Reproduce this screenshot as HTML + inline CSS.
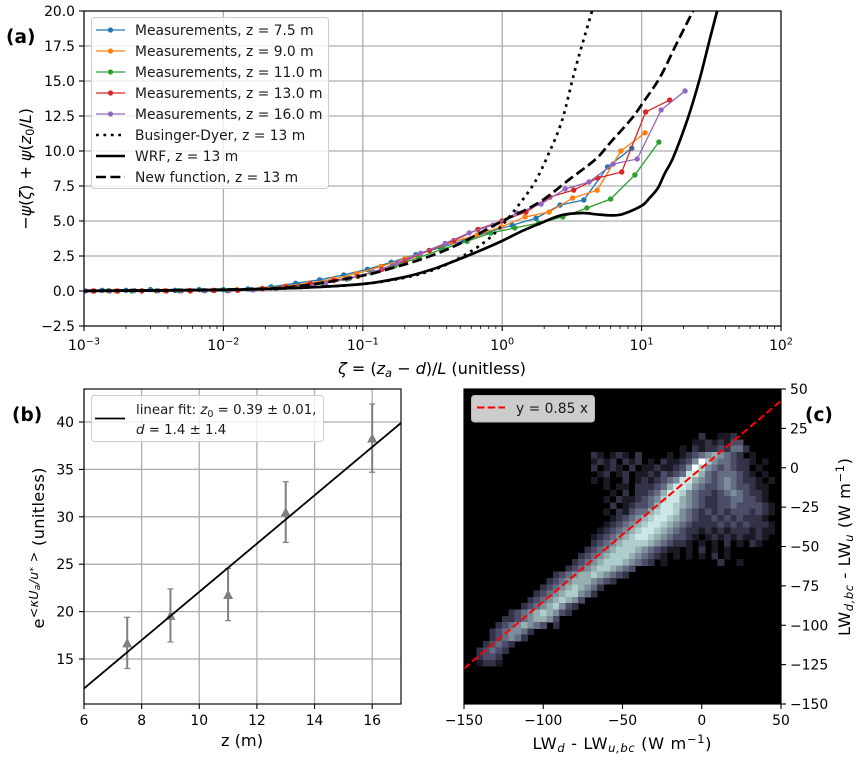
<!DOCTYPE html>
<html lang="en">
<head>
<meta charset="utf-8">
<title>Stability function, roughness fit and longwave comparison</title>
<style>
html,body{margin:0;padding:0;background:#fff;}
svg{display:block;font-family:"DejaVu Sans","Liberation Sans",sans-serif;fill:#000;}
text{white-space:pre;}
.tick{font-size:13.9px;}
.lab{font-size:16.2px;}
.leg{font-size:13.85px;fill:#1a1a1a;}
.legb{font-size:13.35px;fill:#1a1a1a;}
.pan{font-size:18.5px;font-weight:bold;}
</style>
</head>
<body>
<svg id="fig" xmlns="http://www.w3.org/2000/svg" width="861" height="761" viewBox="0 0 861 761">
  <defs>
    <clipPath id="clipA"><rect x="84" y="11" width="697" height="315"/></clipPath>
    <clipPath id="clipB"><rect x="84" y="389" width="317" height="315"/></clipPath>
    <clipPath id="clipC"><rect x="464" y="389" width="317" height="315"/></clipPath>
  </defs>
  <g id="panelA"></g>
  <g id="panelB"></g>
  <g id="panelC"></g>

  <text class="pan" x="6" y="43">(a)</text>
  <text class="pan" x="12" y="421">(b)</text>
  <text class="pan" x="805" y="421">(c)</text>

  <text class="lab" transform="translate(31,169) rotate(-90)" text-anchor="middle" textLength="122">−<tspan font-style="italic">ψ</tspan>(<tspan font-style="italic">ζ</tspan>) + <tspan font-style="italic">ψ</tspan>(<tspan font-style="italic">z</tspan><tspan font-size="11.5" dy="3">0</tspan><tspan dy="-3">/</tspan><tspan font-style="italic">L</tspan>)</text>
  <text class="lab" x="432" y="374" text-anchor="middle" textLength="188"><tspan font-style="italic">ζ</tspan> = (<tspan font-style="italic">z</tspan><tspan font-size="11.5" font-style="italic" dy="3">a</tspan><tspan dy="-3"> − </tspan><tspan font-style="italic">d</tspan>)/<tspan font-style="italic">L</tspan> (unitless)</text>
  <text class="lab" transform="translate(44,548) rotate(-90)" text-anchor="middle" textLength="161">e<tspan font-size="12.5" dy="-6">&lt;</tspan><tspan font-size="12.5" font-style="italic">κU</tspan><tspan font-size="9" font-style="italic" dy="2">a</tspan><tspan font-size="12.5" font-style="italic" dy="-2">/u</tspan><tspan font-size="9" dy="-2">*</tspan><tspan font-size="12.5" dy="2"> &gt;</tspan><tspan dy="6"> (unitless)</tspan></text>
  <text class="lab" x="242" y="746" text-anchor="middle">z (m)</text>
  <text class="lab" x="622" y="749" text-anchor="middle" textLength="179">LW<tspan font-size="11.5" font-style="italic" dy="3">d</tspan><tspan dy="-3"> - LW</tspan><tspan font-size="11.5" font-style="italic" dy="3">u,bc</tspan><tspan dy="-3"> (W m</tspan><tspan font-size="11.5" dy="-6">−1</tspan><tspan dy="6">)</tspan></text>
  <text class="lab" transform="translate(850,547) rotate(-90)" text-anchor="middle" textLength="178">LW<tspan font-size="11.5" font-style="italic" dy="3">d,bc</tspan><tspan dy="-3"> - LW</tspan><tspan font-size="11.5" font-style="italic" dy="3">u</tspan><tspan dy="-3"> (W m</tspan><tspan font-size="11.5" dy="-6">−1</tspan><tspan dy="6">)</tspan></text>

  <g id="legendA">
    <rect x="91.5" y="17.5" width="237" height="171" rx="3" fill="#fff" fill-opacity="0.8" stroke="#ccc"/>
    <g><line x1="96" x2="125" y1="30" y2="30" stroke="#1f77b4" stroke-width="1.3"/><circle cx="110.5" cy="30" r="2.6" fill="#1f77b4"/><text class="leg" x="135" y="35">Measurements, z = 7.5 m</text></g>
    <g><line x1="96" x2="125" y1="51" y2="51" stroke="#ff7f0e" stroke-width="1.3"/><circle cx="110.5" cy="51" r="2.6" fill="#ff7f0e"/><text class="leg" x="135" y="56">Measurements, z = 9.0 m</text></g>
    <g><line x1="96" x2="125" y1="72" y2="72" stroke="#2ca02c" stroke-width="1.3"/><circle cx="110.5" cy="72" r="2.6" fill="#2ca02c"/><text class="leg" x="135" y="77">Measurements, z = 11.0 m</text></g>
    <g><line x1="96" x2="125" y1="93" y2="93" stroke="#d62728" stroke-width="1.3"/><circle cx="110.5" cy="93" r="2.6" fill="#d62728"/><text class="leg" x="135" y="98">Measurements, z = 13.0 m</text></g>
    <g><line x1="96" x2="125" y1="114" y2="114" stroke="#9467bd" stroke-width="1.3"/><circle cx="110.5" cy="114" r="2.6" fill="#9467bd"/><text class="leg" x="135" y="119">Measurements, z = 16.0 m</text></g>
    <g><line x1="96" x2="125" y1="135" y2="135" stroke="#000" stroke-width="2.6" stroke-dasharray="2.8 4.6"/><text class="leg" x="135" y="140">Businger-Dyer, z = 13 m</text></g>
    <g><line x1="96" x2="125" y1="156" y2="156" stroke="#000" stroke-width="2.6"/><text class="leg" x="135" y="161">WRF, z = 13 m</text></g>
    <g><line x1="96" x2="125" y1="177" y2="177" stroke="#000" stroke-width="2.6" stroke-dasharray="10 4.4"/><text class="leg" x="135" y="182">New function, z = 13 m</text></g>
  </g>
  <g id="legendB">
    <rect x="91.5" y="395.5" width="232" height="46" rx="3" fill="#fff" fill-opacity="0.8" stroke="#ccc"/>
    <line x1="95" x2="125" y1="418.5" y2="418.5" stroke="#000" stroke-width="1.8"/>
    <text class="legb" x="136" y="414">linear fit: <tspan font-style="italic">z</tspan><tspan font-size="9.5" dy="3">0</tspan><tspan dy="-3"> = 0.39 ± 0.01,</tspan></text>
    <text class="legb" x="136" y="434"><tspan font-style="italic">d</tspan> = 1.4 ± 1.4</text>
  </g>
  <g id="legendC">
    <rect x="471.5" y="395.5" width="123" height="26.5" rx="3" fill="#ccc" stroke="#b8b8b8"/>
    <line x1="477" x2="505" y1="407.5" y2="407.5" stroke="#f00" stroke-width="2" stroke-dasharray="7.5 3.2"/>
    <text class="leg" x="516" y="413">y = 0.85 x</text>
  </g>
</svg>
<script>
// ---- Panel (a) data ----
const zetaExponents = [-3, -2, -1, 0, 1, 2];
const minorMultiples = [2, 3, 4, 5, 6, 7, 8, 9];
const psiTicks = [-2.5, 0, 2.5, 5, 7.5, 10, 12.5, 15, 17.5, 20];

const zeta75 = [0.00135,0.002,0.003,0.0045,0.0067,0.01,0.015,0.022,0.033,0.049,0.073,0.108,0.16,0.24,0.36,0.53,0.79,1.18,1.75,2.6,3.85,5.7,8.5];
const psi75  = [0.05,0.05,0.1,0.05,0.1,0.1,0.15,0.3,0.55,0.8,1.15,1.55,2.05,2.6,3.1,3.6,4.2,4.7,5.2,6.14,6.5,8.86,10.2];
const zeta90 = [0.00116,0.0017,0.0026,0.0038,0.0057,0.0084,0.0125,0.019,0.028,0.041,0.061,0.09,0.135,0.2,0.3,0.44,0.66,0.98,1.46,2.17,3.2,4.8,7.1,10.6];
const psi90  = [0,0,0.02,0.03,0.05,0.05,0.1,0.2,0.35,0.55,0.85,1.25,1.75,2.3,2.9,3.5,4.0,4.57,5.29,5.64,6.64,7.2,10,11.3];
const zeta110 = [0.001,0.0015,0.0022,0.0033,0.0048,0.0072,0.0107,0.0159,0.0236,0.035,0.052,0.077,0.115,0.17,0.253,0.376,0.56,0.83,1.23,1.83,2.72,4.05,6.0,8.95,13.3];
const psi110  = [0,0.02,0,0.01,0.02,0.03,0.02,0.1,0.2,0.35,0.55,0.85,1.3,1.8,2.4,3.0,3.55,4.14,4.5,4.86,5.29,5.93,6.57,8.29,10.64];
const zeta130 = [0.00118,0.00175,0.0026,0.0039,0.0058,0.0086,0.0127,0.019,0.028,0.042,0.062,0.092,0.137,0.2,0.3,0.45,0.67,0.995,1.48,2.2,3.26,4.85,7.2,10.7,15.9];
const psi130  = [0,0,0,0,0,0.04,0.05,0.15,0.3,0.5,0.75,1.05,1.55,2.15,2.9,3.6,4.4,5.0,5.64,6.71,7.21,8.07,8.5,12.79,13.64];
const zeta160 = [0.00103,0.00153,0.0023,0.0034,0.005,0.0074,0.011,0.0164,0.024,0.036,0.054,0.08,0.119,0.177,0.26,0.39,0.58,0.86,1.28,1.9,2.83,4.2,6.25,9.3,13.8,20.5];
const psi160  = [0,0,0.03,0.02,0.01,0.02,0.04,0.08,0.18,0.3,0.55,0.9,1.35,2.0,2.7,3.4,4.15,4.71,5.57,6.21,7.29,7.79,9.07,9.43,12.93,14.29];

const zetaBD = [0.001,0.01,0.03,0.1,0.2,0.32,0.42,0.59,0.78,0.96,1.28,1.72,2.13,2.69,3.33,4.41];
const psiBD  = [0.01,0.08,0.2,0.5,0.95,1.5,2.0,2.8,3.64,4.5,6.0,7.8,9.7,12.2,15.8,20];
const zetaWRF = [0.001,0.01,0.03,0.1,0.2,0.32,0.5,0.7,0.96,1.4,2,2.7,3.8,4.8,6.2,7.36,10.2,11.4,13.1,14.6,16.8,21.5,26.2,31,34.8];
const psiWRF  = [0.01,0.08,0.2,0.5,1.0,1.57,2.3,2.9,3.5,4.3,4.95,5.43,5.57,5.47,5.4,5.5,6.14,6.64,7.36,8.36,9.5,12.36,15.2,18.07,20];
const zetaNew = [0.001,0.01,0.03,0.1,0.2,0.32,0.5,0.96,1.86,3.06,4.79,5.93,8.67,10.2,13.6,17.9,23.4];
const psiNew  = [0.012,0.1,0.28,1.1,1.9,2.57,3.4,4.9,6.36,8.0,9.5,10.57,12.43,13.43,15.29,17.71,20];

// ---- Panel (b) data ----
const heightTicks = [6, 8, 10, 12, 14, 16];
const expTicks = [15, 20, 25, 30, 35, 40];
const heights = [7.5, 9, 11, 13, 16];
const expMeans = [16.7, 19.6, 21.8, 30.5, 38.3];
const expErrors = [2.7, 2.8, 2.75, 3.2, 3.6];
const fitHeights = [6, 17];
const fitValues = [11.9, 39.9];

// ---- Panel (c) data ----
const lwXTicks = [-150, -100, -50, 0, 50];
const lwYTicks = [-150, -125, -100, -75, -50, -25, 0, 25, 50];
const ratioSlope = [0.85];
const ratioX = [-150, 50];
const heatBinSize = 4;
const heatFirstRow = 7;
// each row: first column bin, then density levels 0-9 for consecutive bins
const heatRows = [
 [37,"200112"],
 [36,"11212133"],
 [34,"10212232442"],
 [20,"210121020000101234565432010000"],
 [20,"121202120102112359754432210100"],
 [20,"201210201121123597543432201000"],
 [20,"012012011213234886434443210100"],
 [20,"101002012123458865434543221010"],
 [20,"001011022234688754334543321100"],
 [20,"000102022346887543323454322100"],
 [20,"001021123457886543223344332100"],
 [20,"000201233468876543223343333210"],
 [20,"001021344678875432323233323210"],
 [20,"000123456788765432232323222100"],
 [20,"001234567887654322223232322210"],
 [20,"012345678876543221212122212110"],
 [20,"123456788765433210121212112100"],
 [20,"234567777654322101010201021000"],
 [19,"234567776543211010201010"],
 [18,"234567776543210101010201"],
 [17,"234567776543201000000002001"],
 [16,"23456776543"],
 [14,"234566765432"],
 [13,"23456665432"],
 [12,"2345676542"],
 [11,"2345677542"],
 [10,"234567653"],
 [9,"234567532"],
 [7,"2345676532"],
 [6,"223456653"],
 [5,"2345654302"],
 [4,"2345542"],
 [4,"234542"],
 [3,"23432"],
 [2,"23432"],
 [2,"2332"],
 [2,"1221"]
];

// ---- Helpers ----
const SVGNS = "http://www.w3.org/2000/svg";
function add(parent, tag, attrs, name) {
  const el = document.createElementNS(SVGNS, tag);
  for (const k in attrs) el.setAttribute(k, attrs[k]);
  
  
  parent.appendChild(el);
  return el;
}
function label(parent, x, y, str, anchor, name) {
  const t = add(parent, 'text', {x: x, y: y, 'text-anchor': anchor, class: 'tick'}, name);
  t.textContent = str;
  return t;
}
function minus(v, digits) { return v.toFixed(digits).replace('-', '−'); }
function pathFrom(xs, ys, fx, fy) {
  return xs.map((x, i) => (i ? 'L' : 'M') + fx(x).toFixed(2) + ' ' + fy(ys[i]).toFixed(2)).join('');
}
function smoothFrom(xs, ys, fx, fy) {
  const p = xs.map((x, i) => [fx(x), fy(ys[i])]);
  let d = 'M' + p[0][0].toFixed(2) + ' ' + p[0][1].toFixed(2);
  for (let i = 0; i < p.length - 1; i++) {
    const a = p[Math.max(i - 1, 0)], b = p[i], c = p[i + 1], e = p[Math.min(i + 2, p.length - 1)];
    const h = c[0] - b[0];
    const m1 = (c[1] - a[1]) / Math.max(c[0] - a[0], 1e-6);
    const m2 = (e[1] - b[1]) / Math.max(e[0] - b[0], 1e-6);
    d += 'C' + (b[0] + h / 3).toFixed(2) + ' ' + (b[1] + m1 * h / 3).toFixed(2) + ' ' +
         (c[0] - h / 3).toFixed(2) + ' ' + (c[1] - m2 * h / 3).toFixed(2) + ' ' +
         c[0].toFixed(2) + ' ' + c[1].toFixed(2);
  }
  return d;
}
const GRID = '#adadad', GW = 1.3, SPINE = 1.15;
function frame(g, x, y, w, h, name) {
  add(g, 'rect', {x: x, y: y, width: w, height: h, fill: 'none', stroke: '#000', 'stroke-width': SPINE}, name);
}

// ---- Panel (a) ----
(function () {
  const g = document.getElementById('panelA');
  const xA = z => 84 + (Math.log10(z) + 3) * 139.4;
  const yA = v => 291 - 14 * v;
  zetaExponents.forEach(e => {
    const x = xA(Math.pow(10, e));
    add(g, 'line', {x1: x, x2: x, y1: 11, y2: 326, stroke: GRID, 'stroke-width': GW}, 'x-gridline');
  });
  psiTicks.forEach(v => {
    add(g, 'line', {x1: 84, x2: 781, y1: yA(v), y2: yA(v), stroke: GRID, 'stroke-width': GW}, 'y-gridline');
  });
  const data = add(g, 'g', {'clip-path': 'url(#clipA)'}, 'panel-a-series');
  const series = [
    [zeta75, psi75, '#1f77b4', 'series-7-5m'],
    [zeta90, psi90, '#ff7f0e', 'series-9-0m'],
    [zeta110, psi110, '#2ca02c', 'series-11-0m'],
    [zeta130, psi130, '#d62728', 'series-13-0m'],
    [zeta160, psi160, '#9467bd', 'series-16-0m']
  ];
  series.forEach(s => {
    const grp = add(data, 'g', {}, s[3]);
    add(grp, 'path', {d: pathFrom(s[0], s[1], xA, yA), fill: 'none', stroke: s[2], 'stroke-width': 1.3}, s[3] + '-line');
    s[0].forEach((z, i) => {
      add(grp, 'circle', {cx: xA(z), cy: yA(s[1][i]), r: 2.7, fill: s[2]}, s[3] + '-point');
    });
  });
  add(data, 'path', {d: smoothFrom(zetaBD, psiBD, xA, yA), fill: 'none', stroke: '#000', 'stroke-width': 2.7, 'stroke-dasharray': '2.8 4.6'}, 'businger-dyer-line');
  add(data, 'path', {d: smoothFrom(zetaWRF, psiWRF, xA, yA), fill: 'none', stroke: '#000', 'stroke-width': 2.7, 'stroke-linejoin': 'round'}, 'wrf-line');
  add(data, 'path', {d: smoothFrom(zetaNew, psiNew, xA, yA), fill: 'none', stroke: '#000', 'stroke-width': 2.7, 'stroke-dasharray': '10 4.4'}, 'new-function-line');
  frame(g, 84, 11, 697, 315, 'panel-a-frame');
  zetaExponents.forEach(e => {
    const x = xA(Math.pow(10, e));
    add(g, 'line', {x1: x, x2: x, y1: 326, y2: 331, stroke: '#000', 'stroke-width': 1.1}, 'x-major-tick');
    const t = add(g, 'text', {x: x, y: 350, 'text-anchor': 'middle', class: 'tick'}, 'x-tick-label');
    const base = document.createElementNS(SVGNS, 'tspan');
    base.textContent = '10';
    t.appendChild(base);
    const sup = document.createElementNS(SVGNS, 'tspan');
    sup.setAttribute('font-size', '9.7');
    sup.setAttribute('dy', '-5.5');
    sup.textContent = e < 0 ? '−' + (-e) : String(e);
    t.appendChild(sup);
    if (e < 2) {
      minorMultiples.forEach(m => {
        const mx = xA(m * Math.pow(10, e));
        add(g, 'line', {x1: mx, x2: mx, y1: 326, y2: 329, stroke: '#000', 'stroke-width': 0.8}, 'x-minor-tick');
      });
    }
  });
  psiTicks.forEach(v => {
    add(g, 'line', {x1: 79, x2: 84, y1: yA(v), y2: yA(v), stroke: '#000', 'stroke-width': 1.1}, 'y-major-tick');
    label(g, 75, yA(v) + 5, minus(v, 1), 'end', 'y-tick-label');
  });
})();

// ---- Panel (b) ----
(function () {
  const g = document.getElementById('panelB');
  const xB = z => 84 + (z - 6) * (317 / 11);
  const yB = v => 659 - (v - 15) * 9.48;
  heightTicks.forEach(z => {
    add(g, 'line', {x1: xB(z), x2: xB(z), y1: 389, y2: 704, stroke: GRID, 'stroke-width': GW}, 'x-gridline');
  });
  expTicks.forEach(v => {
    add(g, 'line', {x1: 84, x2: 401, y1: yB(v), y2: yB(v), stroke: GRID, 'stroke-width': GW}, 'y-gridline');
  });
  const data = add(g, 'g', {'clip-path': 'url(#clipB)'}, 'panel-b-series');
  heights.forEach((z, i) => {
    const x = xB(z);
    const top = yB(expMeans[i] + expErrors[i]);
    const bot = yB(expMeans[i] - expErrors[i]);
    const y = yB(expMeans[i]);
    const grp = add(data, 'g', {}, 'measurement-point');
    add(grp, 'line', {x1: x, x2: x, y1: top, y2: bot, stroke: '#808080', 'stroke-width': 2}, 'error-bar');
    add(grp, 'line', {x1: x - 3, x2: x + 3, y1: top, y2: top, stroke: '#808080', 'stroke-width': 1.2}, 'error-cap-top');
    add(grp, 'line', {x1: x - 3, x2: x + 3, y1: bot, y2: bot, stroke: '#808080', 'stroke-width': 1.2}, 'error-cap-bottom');
    add(grp, 'polygon', {points: x + ',' + (y - 5) + ' ' + (x + 5) + ',' + (y + 4.5) + ' ' + (x - 5) + ',' + (y + 4.5), fill: '#808080'}, 'triangle-marker');
  });
  add(data, 'path', {d: pathFrom(fitHeights, fitValues, xB, yB), fill: 'none', stroke: '#000', 'stroke-width': 1.8}, 'linear-fit-line');
  frame(g, 84, 389, 317, 315, 'panel-b-frame');
  heightTicks.forEach(z => {
    add(g, 'line', {x1: xB(z), x2: xB(z), y1: 704, y2: 709, stroke: '#000', 'stroke-width': 1.1}, 'x-major-tick');
    label(g, xB(z), 725, String(z), 'middle', 'x-tick-label');
  });
  expTicks.forEach(v => {
    add(g, 'line', {x1: 79, x2: 84, y1: yB(v), y2: yB(v), stroke: '#000', 'stroke-width': 1.1}, 'y-major-tick');
    label(g, 74, yB(v) + 5, String(v), 'end', 'y-tick-label');
  });
})();

// ---- Panel (c) ----
(function () {
  const g = document.getElementById('panelC');
  const xC = v => 464 + (v + 150) * 1.585;
  const yC = v => 389 + (50 - v) * 1.575;
  const bone = ['#000000', '#1a1a25', '#333347', '#4c4c69', '#646d82', '#7c8e9b', '#96afaf', '#aecece', '#cde6e6', '#fbffff'];
  add(g, 'rect', {x: 464, y: 389, width: 317, height: 315, fill: '#000'}, 'heatmap-background');
  const cells = add(g, 'g', {'clip-path': 'url(#clipC)', 'shape-rendering': 'crispEdges'}, 'heatmap');
  heatRows.forEach((row, r) => {
    const yTop = 50 - (heatFirstRow + r) * heatBinSize;
    row[1].split('').forEach((d, c) => {
      const level = +d;
      if (!level) return;
      const xLeft = -150 + (row[0] + c) * heatBinSize;
      const el = add(cells, 'rect', {
        x: xC(xLeft).toFixed(2),
        y: yC(yTop).toFixed(2),
        width: (xC(xLeft + heatBinSize) - xC(xLeft) + 0.4).toFixed(2),
        height: (yC(yTop - heatBinSize) - yC(yTop) + 0.4).toFixed(2),
        fill: bone[level]
      }, 'heatmap-cell');
      el.setAttribute('data-level', d);
    });
  });
  const ry = ratioX.map(v => v * ratioSlope[0]);
  add(g, 'path', {d: pathFrom(ratioX, ry, xC, yC), fill: 'none', stroke: '#f00', 'stroke-width': 2, 'stroke-dasharray': '7.5 3.2', 'clip-path': 'url(#clipC)'}, 'ratio-line');
  frame(g, 464, 389, 317, 315, 'panel-c-frame');
  lwXTicks.forEach(v => {
    add(g, 'line', {x1: xC(v), x2: xC(v), y1: 704, y2: 709, stroke: '#000', 'stroke-width': 1.1}, 'x-major-tick');
    label(g, xC(v), 725, minus(v, 0), 'middle', 'x-tick-label');
  });
  lwYTicks.forEach(v => {
    add(g, 'line', {x1: 781, x2: 786, y1: yC(v), y2: yC(v), stroke: '#000', 'stroke-width': 1.1}, 'y-major-tick');
    label(g, 790, yC(v) + 5, minus(v, 0), 'start', 'y-tick-label');
  });
})();
</script>
</body>
</html>
